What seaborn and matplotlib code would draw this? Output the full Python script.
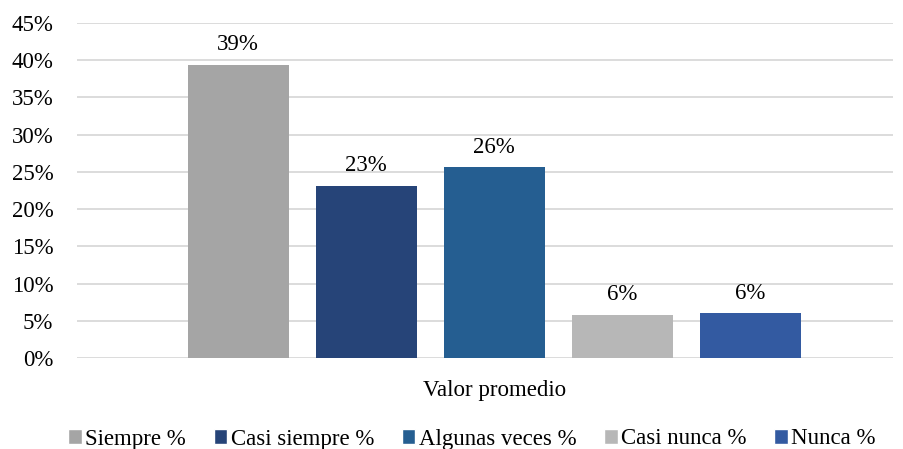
import matplotlib
matplotlib.use("Agg")
import matplotlib.pyplot as plt
import seaborn as sns
import pandas as pd
from matplotlib.patches import Patch

# data
category = ["Valor promedio"]
series = ["Siempre %", "Casi siempre %", "Algunas veces %", "Casi nunca %", "Nunca %"]
values = [39.4, 23.1, 25.6, 5.8, 6.0]
labels = ["39%", "23%", "26%", "6%", "6%"]
colors = ["#A5A5A5", "#264478", "#255E91", "#B7B7B7", "#335AA1"]
yticks = [0, 5, 10, 15, 20, 25, 30, 35, 40, 45]

df = pd.DataFrame({
    "cat": category * len(series),
    "serie": series,
    "valor": values,
})

sns.set_style("white")
plt.rcParams["font.family"] = ["Liberation Serif", "DejaVu Serif"]

fig = plt.figure(figsize=(9.04, 4.49), dpi=100)
ax = fig.add_axes([77 / 904, 91 / 449, 816 / 904, 335 / 449])

sns.barplot(
    data=df, x="cat", y="valor", hue="serie",
    hue_order=series, palette=colors, width=1.0, gap=0.21,
    saturation=1, legend=False, linewidth=0, ax=ax,
)

for cont, lab in zip(ax.containers, labels):
    ax.bar_label(cont, labels=[lab], padding=7, fontsize=16.5, color="black")

ax.set_xlim(-0.652, 0.623)
ax.set_ylim(0, 45)
ax.set_yticks(yticks)
ax.set_yticklabels([f"{t}%" for t in yticks], fontsize=16.5, color="black")
ax.tick_params(axis="y", length=0, pad=17)
ax.tick_params(axis="x", length=0, pad=16)
ax.set_xticks([0])
ax.set_xticklabels(category, fontsize=16.5, color="black")
ax.set_xlabel("")
ax.set_ylabel("")
ax.yaxis.grid(True, color="#D9D9D9", linewidth=1.3)
ax.set_axisbelow(True)
for s in ax.spines.values():
    s.set_visible(False)

handles = [Patch(facecolor=c, label=s) for c, s in zip(colors, series)]
fig.legend(
    handles=handles, loc="center", bbox_to_anchor=(472 / 904, 10 / 449), ncol=5,
    frameon=False, fontsize=16.5, handlelength=0.6, handleheight=0.6,
    handletextpad=0.15, columnspacing=1.2, labelcolor="black",
)

fig.savefig("out.png", dpi=100)
